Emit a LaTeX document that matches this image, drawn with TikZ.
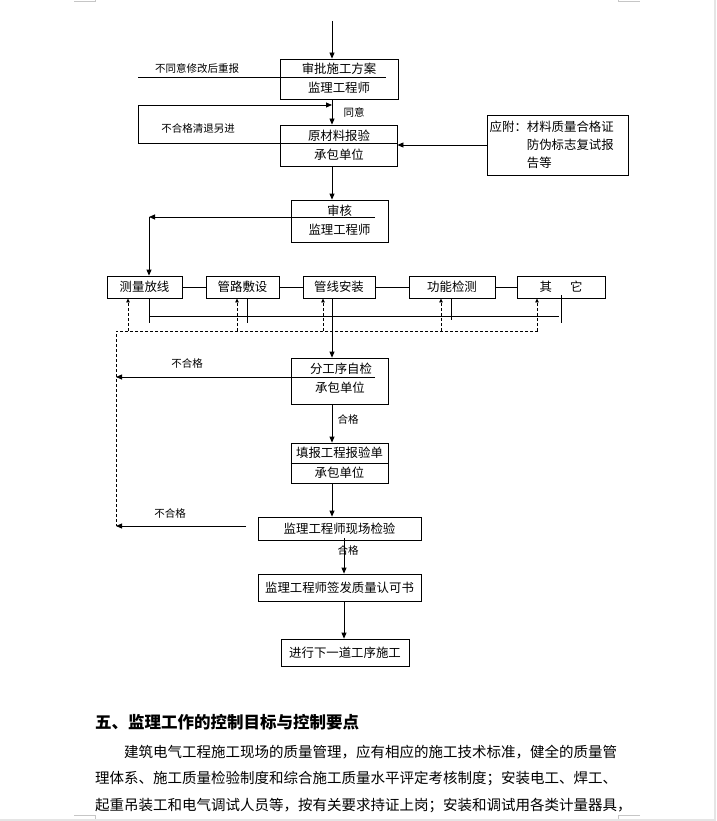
\documentclass[tikz,border=0pt]{standalone}
\usepackage{fontspec}
\setmainfont{Noto Sans CJK SC}
\usetikzlibrary{arrows.meta}

\begin{document}
\begin{tikzpicture}[x=1pt,y=-1pt]
        \tikzstyle{box}=[draw=black,line width=0.8pt,inner sep=0pt,font=\fontsize{12.4}{14}\selectfont]
        \tikzstyle{txt}=[inner sep=0pt,font=\fontsize{12.4}{14}\selectfont]
        \tikzstyle{lbl}=[inner sep=0pt,font=\fontsize{10.5}{12}\selectfont]
        \tikzstyle{body}=[anchor=west,inner sep=0pt,font=\fontsize{14.5}{16}\selectfont]
        \tikzstyle{ln}=[line width=0.8pt]
        \tikzstyle{arr}=[line width=0.8pt,-{Triangle[length=6pt,width=5pt]}]
        \tikzstyle{dsh}=[line width=0.8pt,dash pattern=on 3pt off 2pt]
        \tikzstyle{pagemk}=[gray!45,line width=1pt]
        \useasboundingbox (0,0) rectangle (716,821);
        % boxes
        \node[box,minimum width=118,minimum height=40] (b1) at (339,79) {};
        \node[txt] (b1a) at (339,68.5) {审批施工方案};
        \node[txt] (b1b) at (339,88) {监理工程师};
        \node[box,minimum width=117,minimum height=41] (b2) at (338.5,145.5) {};
        \node[txt] (b2a) at (339,135.5) {原材料报验};
        \node[txt] (b2b) at (339,154.5) {承包单位};
        \node[box,minimum width=141,minimum height=60] (note) at (557.5,145) {};
        \node[txt,anchor=west,align=left,font=\fontsize{12.4}{18}\selectfont] (notet) at (489.5,145) {应附：材料质量合格证\\\hphantom{应附：}防伪标志复试报\\\hphantom{应附：}告等};
        \node[box,minimum width=97,minimum height=42] (b3) at (339.5,221) {};
        \node[txt] (b3a) at (339.5,211) {审核};
        \node[txt] (b3b) at (339.5,230) {监理工程师};
        \node[box,minimum width=75,minimum height=22] (r1) at (144.5,287) {测量放线};
        \node[box,minimum width=73,minimum height=22] (r2) at (242.5,287) {管路敷设};
        \node[box,minimum width=72,minimum height=22] (r3) at (339,287) {管线安装};
        \node[box,minimum width=86,minimum height=22] (r4) at (452,287) {功能检测};
        \node[box,minimum width=88,minimum height=22] (r5) at (561,287) {其\hspace{18pt}它};
        \node[box,minimum width=97,minimum height=46] (b4) at (339.5,381) {};
        \node[txt] (b4a) at (341,369) {分工序自检};
        \node[txt] (b4b) at (340,387.5) {承包单位};
        \node[box,minimum width=97,minimum height=40] (b5) at (339.5,463) {};
        \node[txt] (b5a) at (339.5,453) {填报工程报验单};
        \node[txt] (b5b) at (339.5,472.5) {承包单位};
        \node[box,minimum width=163,minimum height=23] (b6) at (339.5,528.5) {监理工程师现场检验};
        \node[box,minimum width=163,minimum height=27] (b7) at (339.5,587.5) {监理工程师签发质量认可书};
        \node[box,minimum width=128,minimum height=27] (b8) at (345,652.5) {进行下一道工序施工};
        % labels
        \node[lbl] (l1) at (197,68) {不同意修改后重报};
        \node[lbl] (l2) at (354,112) {同意};
        \node[lbl] (l3) at (198,129) {不合格清退另进};
        \node[lbl] (l4) at (187,363) {不合格};
        \node[lbl] (l5) at (348,419) {合格};
        \node[lbl] (l6) at (170,513) {不合格};
        \node[lbl] (l7) at (348,550) {合格};
        % coordinates
        \coordinate (top) at (332,21);
        \coordinate (rej1) at (138,77);
        \coordinate (rej2) at (138,143);
        \coordinate (s3) at (375,217);
        \coordinate (split) at (149,217);
        \coordinate (bus1) at (149,316);
        \coordinate (bus2) at (559,316);
        \coordinate (fb) at (116,331);
        \coordinate (fbe) at (538,331);
        \coordinate (s4) at (375,377);
        \coordinate (s6) at (246,526);
        \coordinate (mid2) at (344,538);
        % main flow
        \draw[arr] (top) -- (top |- b1.north);
        \draw[ln] (rej1) -- (386,77);
        \draw[arr] (b1.south -| top) -- (b2.north -| top);
        \draw[arr] (b2.east |- rej2) -- (rej2) -- (138,105) -- (top |- 0,105);
        \draw[arr] (note.west) -- (b2.east |- note.west);
        \draw[arr] (b2.south -| top) -- (b3.north -| top);
        \draw[arr] (s3) -- (split);
        \draw[arr] (split) -- (split |- r1.north);
        \foreach \a/\b in {r1/r2,r2/r3,r3/r4,r4/r5} \draw[ln] (\a) -- (\b);
        \draw[ln] (bus1) -- (bus2);
        \foreach \r/\dx in {r1/4.5,r2/4.5} \draw[ln] ([xshift=\dx pt]\r.south) -- ++(0,25);
        \draw[ln] ([xshift=-1pt]r4.south) -- ++(0,22);
        \draw[ln] ([yshift=3pt]r5.south) -- ++(0,28);
        \draw[dsh] (fbe) -- (fb) -- (fb |- s6);
        \foreach \x in {128,237,323,441,537} \draw[dsh,-{Triangle[length=4pt,width=3.5pt]}] (fb -| \x,0) -- (r1.south -| \x,0);
        \draw[arr] (r3.south -| top) -- (b4.north -| top);
        \draw[arr] (s4) -- (fb |- s4);
        \draw[arr] (b4.south -| top) -- (b5.north -| top);
        \draw[ln] (b5.west |- 0,463) -- (b5.east |- 0,463);
        \draw[arr] (b5.south -| top) -- (b6.north -| top);
        \draw[arr] (s6) -- (fb |- s6);
        \draw[arr] (mid2) -- (mid2 |- b7.north);
        \draw[arr] (b7.south -| mid2) -- (b8.north -| mid2);
        % text below
        \node[anchor=west,inner sep=0pt,font=\fontsize{16.5}{18}\selectfont\bfseries] (h5) at (95,722) {五、监理工作的控制目标与控制要点};
        \node[body] (p1) at (124,752) {建筑电气工程施工现场的质量管理，应有相应的施工技术标准，健全的质量管};
        \node[body] (p2) at (95,779) {理体系、施工质量检验制度和综合施工质量水平评定考核制度；安装电工、焊工、};
        \node[body] (p3) at (95,806) {起重吊装工和电气调试人员等，按有关要求持证上岗；安装和调试用各类计量器具，};
        % page marks
        \draw[pagemk] (74,2) -- (95,2) -- (95,0);
        \draw[pagemk] (618,0) -- (618,2) -- (640,2);
        \draw[pagemk] (74,815) -- (95,815) -- (95,821);
        \draw[pagemk] (640,815) -- (618,815) -- (618,821);
        \draw[gray!20,line width=2pt] (715,0) -- (715,821);
        \draw[gray!20,line width=2pt] (0,820) -- (716,820);
    \end{tikzpicture}
\end{document}
